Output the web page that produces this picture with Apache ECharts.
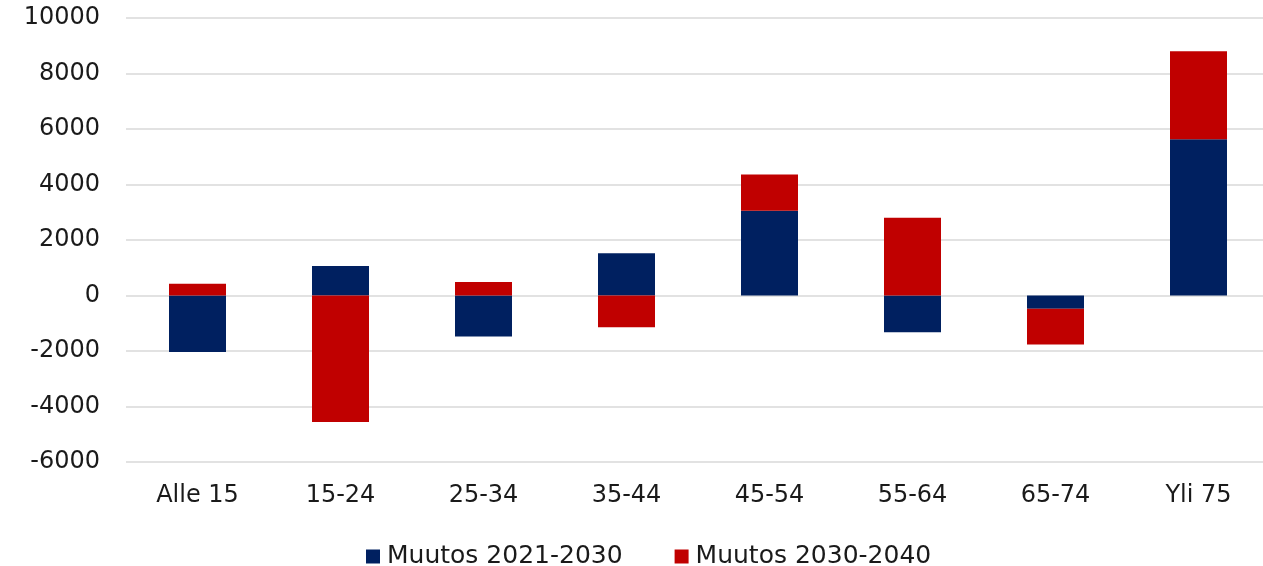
<!DOCTYPE html>
<html>
<head>
<meta charset="utf-8">
<script src="https://cdn.jsdelivr.net/npm/echarts@6/dist/echarts.min.js"></script>
<style>
  html, body { margin: 0; padding: 0; background: #fff; }
  #chart { width: 1263px; height: 566px; }
</style>
</head>
<body>
<div id="chart"></div>
<script>
const categories = ['Alle 15', '15-24', '25-34', '35-44', '45-54', '55-64', '65-74', 'Yli 75']
const change2021_2030 = [-2040, 1060, -1480, 1520, 3050, -1320, -480, 5630]
const change2030_2040 = [420, -4560, 490, -1140, 1310, 2800, -1290, 3170]
const yTicks = { min: -6000, max: 10000, interval: 2000 }

const font = 'DejaVu Sans'
const textColor = '#1a1a1a'
const chart = echarts.init(document.getElementById('chart'))

chart.setOption({
    animation: false,
    textStyle: { fontFamily: font },
    grid: {
        left: 126,
        width: 1144,
        top: 18,
        bottom: 104,
        outerBoundsMode: 'none'
    },
    legend: {
        left: 361,
        top: 539,
        itemWidth: 14,
        itemHeight: 14,
        itemGap: 52,
        icon: 'rect',
        textStyle: { fontFamily: font, fontSize: 25, color: textColor, padding: [0, 0, 0, 2] },
        data: ['Muutos 2021-2030', 'Muutos 2030-2040']
    },
    xAxis: {
        type: 'category',
        data: categories,
        axisLine: { show: false },
        axisTick: { show: false },
        axisLabel: { fontFamily: font, fontSize: 24, color: textColor, margin: 22 }
    },
    yAxis: {
        type: 'value',
        min: yTicks.min,
        max: yTicks.max,
        interval: yTicks.interval,
        axisLine: { show: false },
        axisTick: { show: false },
        axisLabel: {
            fontFamily: font,
            fontSize: 24,
            color: textColor,
            margin: 26,
            formatter: v => String(v)
        },
        splitLine: { lineStyle: { color: '#d9d9d9', width: 1.5 } }
    },
    series: [
        {
            name: 'Muutos 2021-2030',
            type: 'bar',
            stack: 'total',
            barWidth: 57,
            itemStyle: { color: '#002060' },
            data: change2021_2030
        },
        {
            name: 'Muutos 2030-2040',
            type: 'bar',
            stack: 'total',
            barWidth: 57,
            itemStyle: { color: '#c00000' },
            data: change2030_2040
        }
    ]
})
</script>
</body>
</html>
